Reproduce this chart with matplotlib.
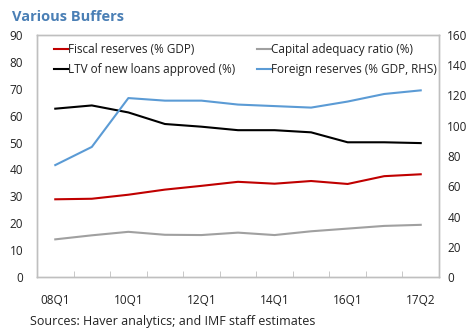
import matplotlib
matplotlib.use("Agg")
import matplotlib.pyplot as plt
import numpy as np

plt.rcParams['font.family'] = ['Open Sans', 'DejaVu Sans']

quarters = ["08Q1", "09Q1", "10Q1", "11Q1", "12Q1", "13Q1",
            "14Q1", "15Q1", "16Q1", "17Q1", "17Q2"]
tick_labels = ["08Q1", "", "10Q1", "", "12Q1", "", "14Q1", "", "16Q1", "", "17Q2"]

fiscal_reserves = [28.9, 29.1, 30.6, 32.5, 33.9, 35.4, 34.7, 35.7, 34.6, 37.5, 38.2]
capital_adequacy = [14.0, 15.5, 16.8, 15.7, 15.6, 16.5, 15.6, 17.0, 18.0, 19.0, 19.4]
ltv_new_loans = [62.6, 63.8, 61.2, 56.9, 55.9, 54.6, 54.6, 53.8, 50.1, 50.1, 49.8]
foreign_reserves = [74.0, 86.0, 118.3, 116.6, 116.6, 114.0, 113.0, 112.0, 116.0, 121.0, 123.4]

fig = plt.figure(figsize=(4.7, 3.29), dpi=100)
ax = fig.add_axes([37 / 470, 1 - 277 / 329, 402 / 470, 242 / 329])
ax2 = ax.twinx()

x = np.arange(len(quarters))
l1, = ax.plot(x, fiscal_reserves, color="#c00000", lw=1.5, label="Fiscal reserves (% GDP)")
l2, = ax.plot(x, capital_adequacy, color="#a0a0a0", lw=1.5, label="Capital adequacy ratio (%)")
l3, = ax.plot(x, ltv_new_loans, color="#000000", lw=1.5, label="LTV of new loans approved (%)")
l4, = ax2.plot(x, foreign_reserves, color="#5b9bd5", lw=1.5, label="Foreign reserves (% GDP, RHS)")

ax.set_xlim(-0.5, len(quarters) - 0.5)
ax.set_ylim(0, 90)
ax.set_yticks(np.arange(0, 91, 10))
ax2.set_ylim(0, 160)
ax2.set_yticks(np.arange(0, 161, 20))

ax.set_xticks(x)
ax.set_xticklabels(tick_labels)
ax.set_xticks(np.arange(-0.5, len(quarters), 1), minor=True)
ax.tick_params(axis="x", which="major", length=0, pad=12, labelsize=8.5, colors="#222222")
ax.tick_params(axis="x", which="minor", length=4, direction="in", color="#bfbfbf")
ax.tick_params(axis="y", length=0, labelsize=8.5, colors="#222222", pad=10)
ax2.tick_params(axis="y", length=0, labelsize=8.5, colors="#222222", pad=6)

for a in (ax, ax2):
    for s in a.spines.values():
        s.set_color("#bfbfbf")
        s.set_linewidth(1.0)

# two-column legend, filled column by column
leg = ax2.legend(handles=[l1, l3, l2, l4], loc="upper left", ncol=2, frameon=False,
                 fontsize=8.5, handlelength=1.2, handletextpad=0.0, columnspacing=1.8,
                 borderaxespad=0.0, borderpad=0.0, labelspacing=0.6,
                 bbox_to_anchor=(54 / 470, 1 - 43 / 329), bbox_transform=fig.transFigure)
for t in leg.get_texts():
    t.set_color("#222222")

fig.text(12 / 470, 1 - 17 / 329, "Various Buffers", fontsize=10.5, fontweight="bold",
         color="#4a7fb5", va="center", ha="left")
fig.text(30 / 470, 1 - 322 / 329, "Sources: Haver analytics; and IMF staff estimates",
         fontsize=9, color="#222222", va="center", ha="left")

fig.savefig("out.png", dpi=100)
